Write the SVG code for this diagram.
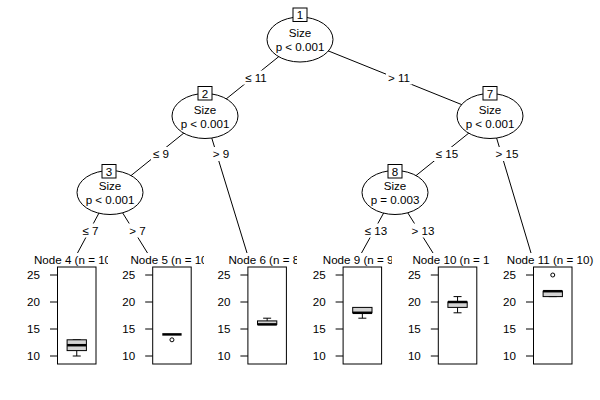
<svg xmlns="http://www.w3.org/2000/svg" width="600" height="400" viewBox="0 0 600 400">
<style>
text{font-family:"Liberation Sans",Arial,sans-serif;font-size:11.6px;fill:#000}
.m{text-anchor:middle}
.e{text-anchor:end}
.edge{stroke:#000;stroke-width:1;fill:none}
.lb{fill:#fff;stroke:none}
.ell{fill:#fff;stroke:#000;stroke-width:1}
.idb{fill:#fff;stroke:#000;stroke-width:1}
.panel{fill:none;stroke:#000;stroke-width:1}
.tick{stroke:#000;stroke-width:1}
.box{fill:#d3d3d3;stroke:#000;stroke-width:1}
.wh{stroke:#000;stroke-width:1;fill:none}
.med{stroke:#000;stroke-width:2.5}
.out{fill:none;stroke:#000;stroke-width:1}
</style>
<defs>
<clipPath id="c4"><rect x="0" y="240" width="108" height="30"/></clipPath>
<clipPath id="c5"><rect x="100" y="240" width="104" height="30"/></clipPath>
<clipPath id="c6"><rect x="200" y="240" width="97" height="30"/></clipPath>
<clipPath id="c9"><rect x="300" y="240" width="92" height="30"/></clipPath>
<clipPath id="c10"><rect x="400" y="240" width="90" height="30"/></clipPath>
</defs>
<rect width="600" height="400" fill="#fff"/>
<g id="connectors">
<line class="edge" x1="300" y1="39.5" x2="205" y2="116"/>
<line class="edge" x1="300" y1="39.5" x2="490" y2="116"/>
<line class="edge" x1="205" y1="116" x2="110" y2="192.5"/>
<line class="edge" x1="205" y1="116" x2="247" y2="253"/>
<line class="edge" x1="110" y1="192.5" x2="77.5" y2="253"/>
<line class="edge" x1="110" y1="192.5" x2="147.5" y2="253"/>
<line class="edge" x1="490" y1="116" x2="395" y2="192.5"/>
<line class="edge" x1="490" y1="116" x2="531" y2="253"/>
<line class="edge" x1="395" y1="192.5" x2="361.5" y2="253"/>
<line class="edge" x1="395" y1="192.5" x2="433" y2="253"/>
<rect class="lb" x="243" y="70.5" width="26" height="14"/><text class="m" x="256" y="81.5">≤ 11</text>
<rect class="lb" x="386" y="70.5" width="26" height="14"/><text class="m" x="399" y="81.5">&gt; 11</text>
<rect class="lb" x="151" y="147" width="20" height="14"/><text class="m" x="161" y="158">≤ 9</text>
<rect class="lb" x="211" y="147" width="20" height="14"/><text class="m" x="221" y="158">&gt; 9</text>
<rect class="lb" x="434" y="147" width="26" height="14"/><text class="m" x="447" y="158">≤ 15</text>
<rect class="lb" x="494" y="147" width="26" height="14"/><text class="m" x="507" y="158">&gt; 15</text>
<rect class="lb" x="80.5" y="223.5" width="20" height="14"/><text class="m" x="90.5" y="234.5">≤ 7</text>
<rect class="lb" x="127.5" y="223.5" width="20" height="14"/><text class="m" x="137.5" y="234.5">&gt; 7</text>
<rect class="lb" x="363" y="223.5" width="26" height="14"/><text class="m" x="376" y="234.5">≤ 13</text>
<rect class="lb" x="410" y="223.5" width="26" height="14"/><text class="m" x="423" y="234.5">&gt; 13</text>
</g>
<g id="node1">
<ellipse class="ell" cx="300" cy="39.5" rx="33" ry="22.5"/>
<rect class="idb" x="293" y="8" width="14" height="13.5"/>
<text class="m" x="300" y="19">1</text>
<text class="m" x="300" y="36.5">Size</text>
<text class="m" x="300" y="50.5">p &lt; 0.001</text>
</g>
<g id="node2">
<ellipse class="ell" cx="205" cy="116" rx="33" ry="22.5"/>
<rect class="idb" x="198" y="86.5" width="14" height="13.5"/>
<text class="m" x="205" y="97.5">2</text>
<text class="m" x="205" y="113.5">Size</text>
<text class="m" x="205" y="127.5">p &lt; 0.001</text>
</g>
<g id="node7">
<ellipse class="ell" cx="490" cy="116" rx="33" ry="22.5"/>
<rect class="idb" x="483" y="86.5" width="14" height="13.5"/>
<text class="m" x="490" y="97.5">7</text>
<text class="m" x="490" y="113.5">Size</text>
<text class="m" x="490" y="127.5">p &lt; 0.001</text>
</g>
<g id="node3">
<ellipse class="ell" cx="110" cy="192.5" rx="33" ry="22"/>
<rect class="idb" x="102" y="164.5" width="14" height="13.5"/>
<text class="m" x="109" y="175.5">3</text>
<text class="m" x="110" y="190">Size</text>
<text class="m" x="110" y="204">p &lt; 0.001</text>
</g>
<g id="node8">
<ellipse class="ell" cx="395" cy="192.5" rx="33" ry="22"/>
<rect class="idb" x="388" y="164.5" width="14" height="13.5"/>
<text class="m" x="395" y="175.5">8</text>
<text class="m" x="395" y="190">Size</text>
<text class="m" x="395" y="204">p = 0.003</text>
</g>
<g id="node4">
<text x="34" y="263.5" clip-path="url(#c4)">Node 4 (n = 10</text>
<line class="tick" x1="50" y1="275" x2="57.5" y2="275"/><text class="e" x="40" y="279">25</text>
<line class="tick" x1="50" y1="302" x2="57.5" y2="302"/><text class="e" x="40" y="306">20</text>
<line class="tick" x1="50" y1="329" x2="57.5" y2="329"/><text class="e" x="40" y="333">15</text>
<line class="tick" x1="50" y1="356" x2="57.5" y2="356"/><text class="e" x="40" y="360">10</text>
<rect class="panel" x="57.5" y="267" width="38.5" height="97"/>
<line class="wh" x1="76.75" y1="350.6" x2="76.75" y2="356"/>
<line class="wh" x1="72.75" y1="356" x2="80.75" y2="356"/>
<line class="wh" x1="72.75" y1="339.8" x2="80.75" y2="339.8"/>
<rect class="box" x="67.1" y="339.8" width="19.3" height="10.8"/>
<line class="med" x1="67.1" y1="345.2" x2="86.4" y2="345.2"/>
</g>
<g id="node5">
<text x="130.5" y="263.5" clip-path="url(#c5)">Node 5 (n = 10</text>
<line class="tick" x1="145.2" y1="275" x2="152.7" y2="275"/><text class="e" x="135.2" y="279">25</text>
<line class="tick" x1="145.2" y1="302" x2="152.7" y2="302"/><text class="e" x="135.2" y="306">20</text>
<line class="tick" x1="145.2" y1="329" x2="152.7" y2="329"/><text class="e" x="135.2" y="333">15</text>
<line class="tick" x1="145.2" y1="356" x2="152.7" y2="356"/><text class="e" x="135.2" y="360">10</text>
<rect class="panel" x="152.7" y="267" width="38.5" height="97"/>
<line class="med" x1="162.3" y1="334.4" x2="181.6" y2="334.4"/>
<circle class="out" cx="171.95" cy="339.8" r="2"/>
</g>
<g id="node6">
<text x="228.5" y="263.5" clip-path="url(#c6)">Node 6 (n = 8</text>
<line class="tick" x1="240.4" y1="275" x2="247.9" y2="275"/><text class="e" x="230.4" y="279">25</text>
<line class="tick" x1="240.4" y1="302" x2="247.9" y2="302"/><text class="e" x="230.4" y="306">20</text>
<line class="tick" x1="240.4" y1="329" x2="247.9" y2="329"/><text class="e" x="230.4" y="333">15</text>
<line class="tick" x1="240.4" y1="356" x2="247.9" y2="356"/><text class="e" x="230.4" y="360">10</text>
<rect class="panel" x="247.9" y="267" width="38.5" height="97"/>
<line class="wh" x1="267.15" y1="318.2" x2="267.15" y2="320.9"/>
<line class="wh" x1="263.15" y1="318.2" x2="271.15" y2="318.2"/>
<rect class="box" x="257.5" y="320.9" width="19.3" height="3.5"/>
<line class="med" x1="257.5" y1="324.4" x2="276.8" y2="324.4"/>
</g>
<g id="node9">
<text x="322.8" y="263.5" clip-path="url(#c9)">Node 9 (n = 9</text>
<line class="tick" x1="335.6" y1="275" x2="343.1" y2="275"/><text class="e" x="325.6" y="279">25</text>
<line class="tick" x1="335.6" y1="302" x2="343.1" y2="302"/><text class="e" x="325.6" y="306">20</text>
<line class="tick" x1="335.6" y1="329" x2="343.1" y2="329"/><text class="e" x="325.6" y="333">15</text>
<line class="tick" x1="335.6" y1="356" x2="343.1" y2="356"/><text class="e" x="325.6" y="360">10</text>
<rect class="panel" x="343.1" y="267" width="38.5" height="97"/>
<line class="wh" x1="362.35" y1="312.8" x2="362.35" y2="318.2"/>
<line class="wh" x1="358.35" y1="318.2" x2="366.35" y2="318.2"/>
<rect class="box" x="352.7" y="307.4" width="19.3" height="5.4"/>
<line class="med" x1="352.7" y1="312.8" x2="372" y2="312.8"/>
</g>
<g id="node10">
<text x="412.5" y="263.5" clip-path="url(#c10)">Node 10 (n = 1</text>
<line class="tick" x1="430.8" y1="275" x2="438.3" y2="275"/><text class="e" x="420.8" y="279">25</text>
<line class="tick" x1="430.8" y1="302" x2="438.3" y2="302"/><text class="e" x="420.8" y="306">20</text>
<line class="tick" x1="430.8" y1="329" x2="438.3" y2="329"/><text class="e" x="420.8" y="333">15</text>
<line class="tick" x1="430.8" y1="356" x2="438.3" y2="356"/><text class="e" x="420.8" y="360">10</text>
<rect class="panel" x="438.3" y="267" width="38.5" height="97"/>
<line class="wh" x1="457.55" y1="296.6" x2="457.55" y2="302"/>
<line class="wh" x1="453.55" y1="296.6" x2="461.55" y2="296.6"/>
<line class="wh" x1="457.55" y1="307.4" x2="457.55" y2="312.8"/>
<line class="wh" x1="453.55" y1="312.8" x2="461.55" y2="312.8"/>
<rect class="box" x="447.9" y="302" width="19.3" height="5.4"/>
<line class="med" x1="447.9" y1="302" x2="467.2" y2="302"/>
</g>
<g id="node11">
<text x="506.8" y="263.5">Node 11 (n = 10)</text>
<line class="tick" x1="526" y1="275" x2="533.5" y2="275"/><text class="e" x="516" y="279">25</text>
<line class="tick" x1="526" y1="302" x2="533.5" y2="302"/><text class="e" x="516" y="306">20</text>
<line class="tick" x1="526" y1="329" x2="533.5" y2="329"/><text class="e" x="516" y="333">15</text>
<line class="tick" x1="526" y1="356" x2="533.5" y2="356"/><text class="e" x="516" y="360">10</text>
<rect class="panel" x="533.5" y="267" width="38.5" height="97"/>
<line class="wh" x1="548.75" y1="296.6" x2="556.75" y2="296.6"/>
<rect class="box" x="543.1" y="291.2" width="19.3" height="5.4"/>
<line class="med" x1="543.1" y1="291.2" x2="562.4" y2="291.2"/>
<circle class="out" cx="552.75" cy="275" r="2"/>
</g>
</svg>
